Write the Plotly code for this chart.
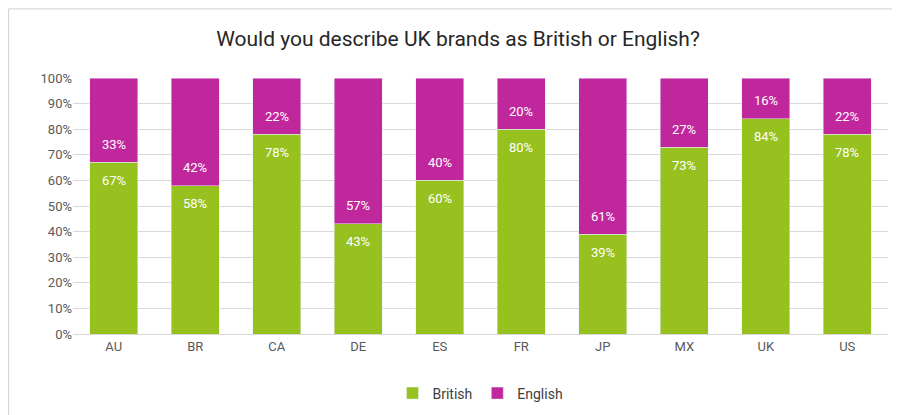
import plotly.graph_objects as go

countries = ["AU","BR","CA","DE","ES","FR","JP","MX","UK","US"]
british = [67,58,78,43,60,80,39,73,84,78]
english = [33,42,22,57,40,20,61,27,16,22]

fig = go.Figure()
fig.add_bar(x=countries, y=british, name="British", marker_color="#97C11F")
fig.add_bar(x=countries, y=english, name="English", marker_color="#C1279D")
for c, b, e in zip(countries, british, english):
    fig.add_annotation(x=c, y=b, text=f"{b}%", showarrow=False, yshift=-18,
                       font=dict(color="white", size=13))
    fig.add_annotation(x=c, y=b, text=f"{e}%", showarrow=False, yshift=18,
                       font=dict(color="white", size=13))
fig.update_layout(
    barmode="stack", bargap=0.41, width=900, height=415,
    font=dict(family="Roboto", color="#404040"),
    title=dict(text="Would you describe UK brands as British or English?", x=0.5, y=0.925,
               xanchor="center", yanchor="middle", font=dict(size=21, color="#262626")),
    paper_bgcolor="white", plot_bgcolor="white",
    margin=dict(l=65, r=20, t=70, b=89),
    legend=dict(orientation="h", x=0.5, xanchor="center", y=-0.17, yanchor="top",
                font=dict(size=14), traceorder="normal"),
    showlegend=True,
)
fig.update_yaxes(range=[0,100], dtick=10, ticksuffix="%", gridcolor="#d9d9d9",
                 tickfont=dict(size=13, color="#595959"), zeroline=False)
fig.update_xaxes(tickfont=dict(size=13, color="#595959"), showline=True, linecolor="#d9d9d9")
fig.add_shape(type="rect", xref="paper", yref="paper", x0=-0.079, x1=1.022, y0=-0.344, y1=1.27,
              line=dict(color="#d0d0d0", width=1))
fig.write_html("out.html")
